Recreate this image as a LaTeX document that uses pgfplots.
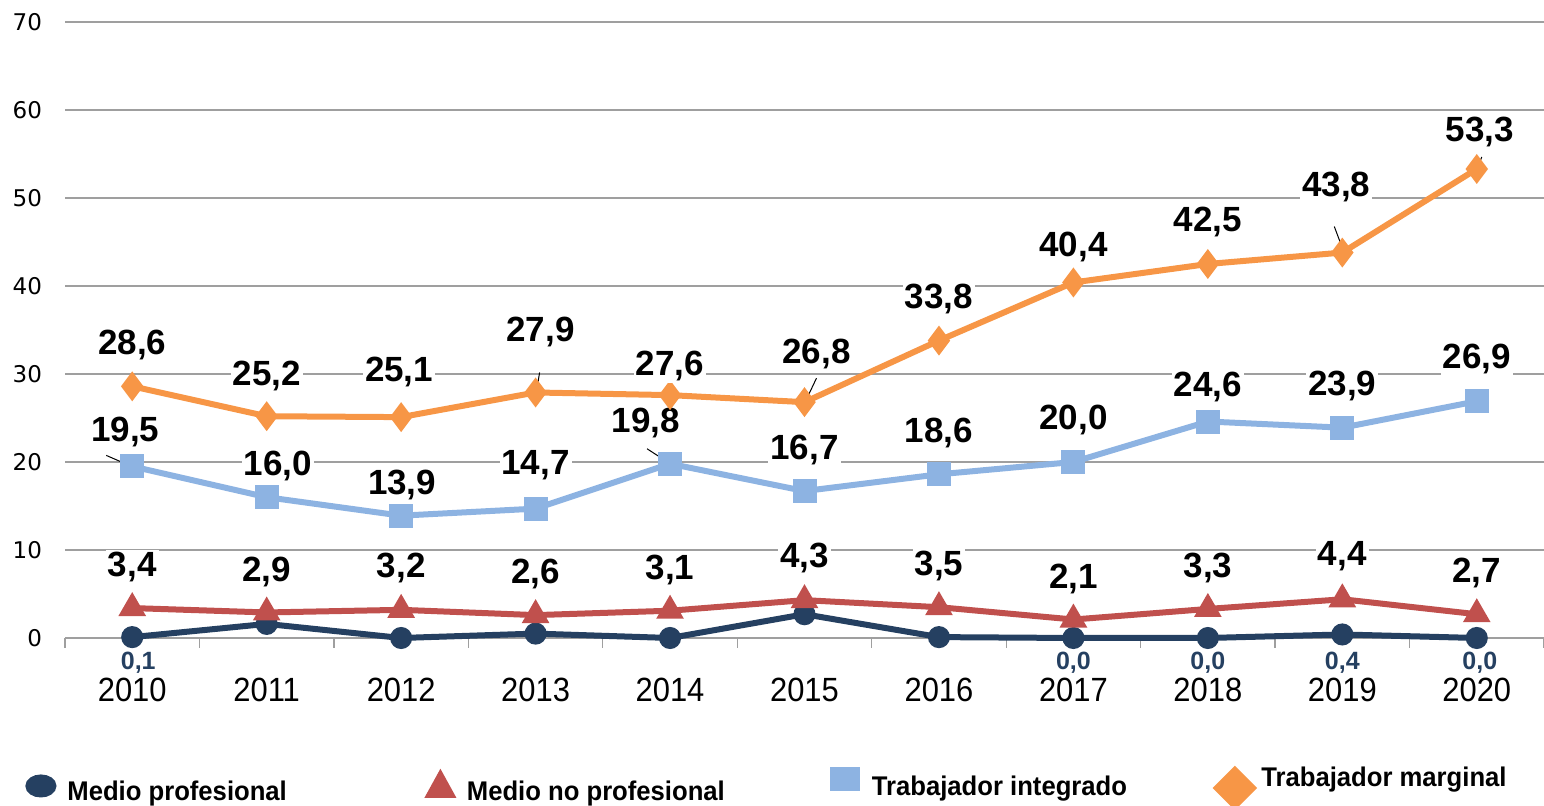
\documentclass[border=0pt]{standalone}
\usepackage{pgfplots}
\pgfplotsset{compat=1.18}
\usepackage{pgfplotstable}
\usepackage{fontspec}
\setmainfont{Liberation Sans}
\newfontfamily\verd{DejaVu Sans}
\newfontfamily\narrow[FakeStretch=0.92]{Liberation Sans}
\newfontfamily\legf[FakeStretch=0.95]{Liberation Sans}

\definecolor{navy}{HTML}{254061}
\definecolor{redc}{HTML}{C0504D}
\definecolor{bluec}{HTML}{8DB3E2}
\definecolor{orangec}{HTML}{F79646}

% x = 0..10 for 2010..2020; dx, dy = label offset in pt
\pgfplotstableread{
x y dx dy s
0 0.1 3 -13 1
1 1.6 0 0 0
2 0.0 0 0 0
3 0.5 0 0 0
4 0.0 0 0 0
5 2.7 0 0 0
6 0.1 0 0 0
7 0.0 0 -12.5 1
8 0.0 0 -12.5 1
9 0.4 0 -14 1
10 0.0 1.5 -12.5 1
}\medprof

\pgfplotstableread{
x y dx dy
0 3.4 0 20.5
1 2.9 0 20
2 3.2 0 21
3 2.6 0 20.5
4 3.1 0 20.5
5 4.3 0 21
6 3.5 0 20.5
7 2.1 0 20.5
8 3.3 0 20.5
9 4.4 0 21.5
10 2.7 0 20.5
}\mednoprof

\pgfplotstableread{
x y dx dy
0 19.5 -3.5 17
1 16.0 5.5 15.5
2 13.9 0.5 15.5
3 14.7 0 21.5
4 19.8 -12 20.5
5 16.7 0 20.5
6 18.6 0 20.5
7 20.0 0 21
8 24.6 0 17.5
9 23.9 0 21
10 26.9 0 21
}\integ

\pgfplotstableread{
x y dx dy
0 28.6 0 20.5
1 25.2 0 20
2 25.1 -1 22.5
3 27.9 2.5 30
4 27.6 0 14.5
5 26.8 6 24
6 33.8 0 21
7 40.4 0 17.5
8 42.5 0 21
9 43.8 -3 33
10 53.3 1.5 18.5
}\marg

\pgfplotsset{
  lab/.style={
    visualization depends on={\thisrow{dx} \as \labdx},
    visualization depends on={\thisrow{dy} \as \labdy},
    nodes near coords={\pgfmathprintnumber[fixed,fixed zerofill,precision=1,use comma]{\pgfplotspointmeta}},
    every node near coord/.append style={anchor=center, xshift=\labdx pt, yshift=\labdy pt,
      font=\bfseries\fontsize{17.5}{19}\selectfont, text=black, fill=white, inner sep=1pt},
  },
}
\newcommand{\legtxt}[3]{\smash{\raisebox{#1}{\makebox[#2][l]{#3}}}}

\begin{document}
\begin{tikzpicture}
\useasboundingbox (-32.5pt,-84pt) rectangle (739.5pt,319pt);
\begin{axis}[
  at={(0pt,0pt)}, anchor=south west, scale only axis,
  width=739.5pt, height=308pt,
  xmin=-0.5, xmax=10.5, ymin=0, ymax=70,
  xtick={0,...,10},
  xticklabels={2010,2011,2012,2013,2014,2015,2016,2017,2018,2019,2020},
  minor xtick={-0.5,0.5,...,10.5},
  ytick={0,10,...,70},
  major tick length=0pt, minor tick length=5pt, tick align=outside,
  minor tick style={draw=gray!75, line width=0.6pt},
  axis x line*=bottom, axis y line*=left,
  y axis line style={draw=none},
  x axis line style={draw=gray!75, line width=0.6pt, -},
  ymajorgrids, grid style={draw=gray!75, line width=0.6pt},
  clip=false,
  /pgf/number format/assume math mode=true,
  yticklabel style={font=\verd\fontsize{11.5}{12}\selectfont, xshift=-8pt},
  xticklabel style={font=\narrow\fontsize{16.8}{18}\selectfont, yshift=-16.5pt},
  legend style={draw=none, fill=none, at={(-0.0321,-0.2662)}, anchor=west,
    font=\legf\bfseries\fontsize{13.5}{15}\selectfont},
  legend columns=4,
]
\addplot[navy, line width=3pt, mark=*, mark size=4pt, mark options={solid},
  visualization depends on={\thisrow{dx} \as \labdx},
  visualization depends on={\thisrow{dy} \as \labdy},
  visualization depends on={\thisrow{s} \as \labshow},
  nodes near coords={\ifdim\labshow pt>0pt \pgfmathprintnumber[fixed,fixed zerofill,precision=1,use comma]{\pgfplotspointmeta}\fi},
  every node near coord/.append style={anchor=center, xshift=\labdx pt, yshift=\labdy pt,
    font=\bfseries\fontsize{12.5}{14}\selectfont, text=navy, inner sep=0pt},
  legend image code/.code={\path (-7pt,-22pt) (9.75pt,22pt);
    \fill[navy] (0pt,8pt) ellipse [x radius=6.25pt, y radius=4.25pt];}]
  table[x=x, y=y] {\medprof};
\addlegendentry{\legtxt{0pt}{176pt}{Medio profesional}}

\addplot[redc, line width=3pt, mark=triangle*, mark size=5pt, mark options={solid}, lab,
  legend image code/.code={\path (-7pt,-22pt) (9.75pt,22pt);
    \fill[redc] (0pt,13.5pt) -- (-5.5pt,3.5pt) -- (5.5pt,3.5pt) -- cycle;}]
  table[x=x, y=y] {\mednoprof};
\addlegendentry{\legtxt{0pt}{178.75pt}{Medio no profesional}}

\addplot[bluec, line width=3pt, mark=square*, mark size=4.5pt, mark options={solid}, lab,
  legend image code/.code={\path (-7pt,-22pt) (9.75pt,22pt);
    \fill[bluec] (-6pt,7pt) rectangle (6pt,16pt);}]
  table[x=x, y=y] {\integ};
\addlegendentry{\legtxt{2.5pt}{169pt}{Trabajador integrado}}

\addplot[orangec, line width=3pt, mark=diamond*, mark size=5pt, mark options={solid}, lab,
  legend image code/.code={\path (-7pt,-22pt) (9.75pt,22pt);
    \fill[orangec] (0pt,16pt) -- (-9pt,7pt) -- (0pt,-2pt) -- (9pt,7pt) -- cycle;}]
  table[x=x, y=y] {\marg};
\addlegendentry{\legtxt{7pt}{130pt}{Trabajador marginal}}

% leader lines
\draw[black, line width=0.5pt] ([xshift=0.5pt,yshift=6pt]axis cs:2,25.1) -- ([xshift=0.5pt,yshift=0.5pt]axis cs:2,25.1);
\draw[black, line width=0.5pt] ([xshift=2pt,yshift=10pt]axis cs:3,27.9) -- ([xshift=0.5pt,yshift=0.7pt]axis cs:3,27.9);
\draw[black, line width=0.5pt] ([xshift=6pt,yshift=12pt]axis cs:5,26.8) -- ([xshift=1pt,yshift=1.5pt]axis cs:5,26.8);
\draw[black, line width=0.5pt] ([xshift=-4pt,yshift=13pt]axis cs:9,43.8) -- ([xshift=0.5pt,yshift=1pt]axis cs:9,43.8);
\draw[black, line width=0.5pt] ([xshift=2.5pt,yshift=6pt]axis cs:10,53.3) -- ([xshift=0.5pt,yshift=1pt]axis cs:10,53.3);
\draw[black, line width=0.5pt] ([xshift=-13pt,yshift=5.5pt]axis cs:0,19.5) -- ([xshift=-1.5pt,yshift=0.5pt]axis cs:0,19.5);
\draw[black, line width=0.5pt] ([xshift=-11.5pt,yshift=7.5pt]axis cs:4,19.8) -- ([xshift=-1.5pt,yshift=1pt]axis cs:4,19.8);
\end{axis}
\end{tikzpicture}
\end{document}
